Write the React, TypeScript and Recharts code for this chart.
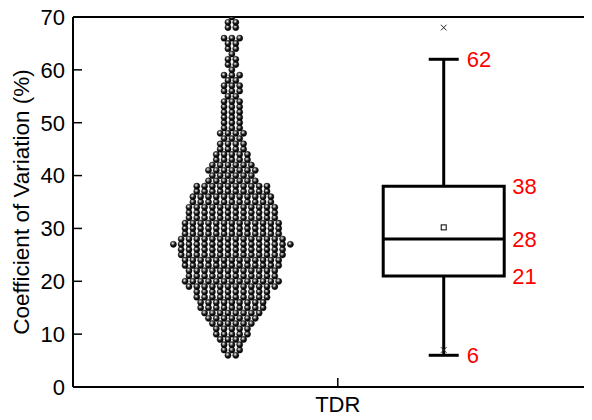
import React from 'react';
import {
  ComposedChart, XAxis, YAxis, Scatter, ReferenceArea, ReferenceLine,
} from 'recharts';

// ---- data ----
const cvValues = [
  6, 7, 8, 9, 10, 11, 12, 13, 14, 15, 16, 17, 18, 19, 20, 21, 22, 23, 24, 25,
  26, 27, 28, 29, 30, 31, 32, 33, 34, 35, 36, 37, 38, 39, 40, 41, 42, 43, 44, 45,
  46, 47, 48, 49, 50, 51, 52, 53, 54, 55, 56, 57, 58, 59, 60, 61, 62, 63, 64, 65,
  66, 67, 68, 69, 70,
];
const cvCounts = [
  2, 3, 3, 4, 5, 5, 6, 7, 8, 9, 9, 10, 10, 12, 13, 12, 12, 13, 13, 14,
  14, 16, 14, 13, 13, 13, 12, 12, 12, 11, 11, 10, 10, 7, 6, 7, 6, 5, 5, 4,
  4, 3, 4, 3, 3, 3, 3, 3, 3, 2, 3, 3, 2, 3, 1, 2, 2, 1, 2, 2,
  3, 0, 2, 2, 1,
];
const categories = ['TDR'];
const boxValues = [6, 21, 28, 38, 62]; // whisker low, Q1, median, Q3, whisker high
const boxLabels = ['6', '21', '28', '38', '62'];
const meanValue = 30.2;
const outlierValues = [68, 7];
const yTicks = [0, 10, 20, 30, 40, 50, 60, 70];

// ---- layout constants ----
const W = 584;
const H = 412;
const Y_AXIS_W = 65;
const X_AXIS_H = 33;
const TOP = 9;
const X_MAX = 1.96;
const PLOT_W = W - Y_AXIS_W;
const PX_PER_UNIT = PLOT_W / X_MAX;
const CAT_X = 1;
const SWARM_X = 0.6;
const BOX_X = 1.4;
const BOX_HALF = 60.5 / PX_PER_UNIT;
const CAP_HALF = 15 / PX_PER_UNIT;
const DOT_STEP = 7.8 / PX_PER_UNIT;
const FONT = '"Liberation Sans", Arial, sans-serif';

const swarmData: { x: number; y: number }[] = [];
cvValues.forEach((v, i) => {
  const n = cvCounts[i];
  for (let k = 0; k < n; k++) {
    swarmData.push({ x: SWARM_X + (k - (n - 1) / 2) * DOT_STEP, y: v });
  }
});

const [wLow, q1, med, q3, wHigh] = boxValues;
const labelData = [
  { x: BOX_X + CAP_HALF, y: wLow, text: boxLabels[0] },
  { x: BOX_X + BOX_HALF, y: q1, text: boxLabels[1] },
  { x: BOX_X + BOX_HALF, y: med, text: boxLabels[2] },
  { x: BOX_X + BOX_HALF, y: q3, text: boxLabels[3] },
  { x: BOX_X + CAP_HALF, y: wHigh, text: boxLabels[4] },
];
const outlierData = outlierValues.map((v) => ({ x: BOX_X, y: v }));
const meanData = [{ x: BOX_X, y: meanValue }];

const Ball = (props: any) => {
  const { cx, cy } = props;
  if (cx == null || cy == null) return null;
  return <circle cx={cx} cy={cy} r={3.1} fill="url(#ballGrad)" stroke="#000" strokeWidth={0.4} />;
};

const Cross = (props: any) => {
  const { cx, cy } = props;
  if (cx == null || cy == null) return null;
  const s = 2.8;
  return (
    <g stroke="#222" strokeWidth={1}>
      <line x1={cx - s} y1={cy - s} x2={cx + s} y2={cy + s} />
      <line x1={cx - s} y1={cy + s} x2={cx + s} y2={cy - s} />
    </g>
  );
};

const MeanSquare = (props: any) => {
  const { cx, cy } = props;
  if (cx == null || cy == null) return null;
  return <rect x={cx - 2.5} y={cy - 2.5} width={5} height={5} fill="#fff" stroke="#000" strokeWidth={1} />;
};

const RedLabel = (props: any) => {
  const { cx, cy, payload } = props;
  if (cx == null || cy == null) return null;
  return (
    <text x={cx + 8} y={cy} dy="0.36em" textAnchor="start" fontSize={22} fill="#ff0000" fontFamily={FONT}>
      {payload.text}
    </text>
  );
};

const YTick = (props: any) => {
  const { x, y, payload } = props;
  return (
    <g>
      <line x1={x + 8} x2={x + 17} y1={y} y2={y} stroke="#000" strokeWidth={1.5} />
      <text x={x} y={y} dy="0.36em" textAnchor="end" fontSize={22} fill="#000" fontFamily={FONT}>
        {payload.value}
      </text>
    </g>
  );
};

const XTick = (props: any) => {
  const { x, y } = props;
  return (
    <g>
      <line x1={x} x2={x} y1={y - 9} y2={y} stroke="#000" strokeWidth={1.5} />
      <text x={x} y={y + 25} textAnchor="middle" fontSize={22} fill="#000" fontFamily={FONT}>
        {categories[0]}
      </text>
    </g>
  );
};

const YLabel = (props: any) => {
  const vb = props.viewBox || {};
  const cx = (vb.x ?? 0) + 13;
  const cy = (vb.y ?? TOP) + (vb.height ?? 370) / 2;
  return (
    <text
      x={cx}
      y={cy}
      transform={`rotate(-90, ${cx}, ${cy})`}
      textAnchor="middle"
      dominantBaseline="central"
      fontSize={22.5}
      fill="#000"
      fontFamily={FONT}
    >
      Coefficient of Variation (%)
    </text>
  );
};

export default function App() {
  return (
    <ComposedChart width={W} height={H} margin={{ top: TOP, right: 0, bottom: 0, left: 0 }}>
      <defs>
        <radialGradient id="ballGrad" cx="40%" cy="35%" r="65%">
          <stop offset="0%" stopColor="#ffffff" />
          <stop offset="22%" stopColor="#9a9a9a" />
          <stop offset="55%" stopColor="#1a1a1a" />
          <stop offset="100%" stopColor="#000000" />
        </radialGradient>
      </defs>
      <XAxis
        type="number"
        dataKey="x"
        domain={[0, X_MAX]}
        ticks={[CAT_X]}
        height={X_AXIS_H}
        axisLine={{ stroke: '#000', strokeWidth: 2 }}
        tickLine={false}
        tickSize={0}
        tickMargin={0}
        tick={<XTick />}
        allowDataOverflow
      />
      <YAxis
        type="number"
        dataKey="y"
        domain={[0, 70]}
        ticks={yTicks}
        width={Y_AXIS_W}
        axisLine={{ stroke: '#000', strokeWidth: 2 }}
        tickLine={false}
        tickSize={8}
        tickMargin={0}
        tick={<YTick />}
        interval={0}
        allowDataOverflow
        label={<YLabel />}
      />
      <ReferenceLine y={70} stroke="#000" strokeWidth={2} ifOverflow="visible" />
      <Scatter data={swarmData} shape={<Ball />} isAnimationActive={false} />
      <ReferenceLine
        segment={[{ x: BOX_X, y: wLow }, { x: BOX_X, y: q1 }]}
        stroke="#000"
        strokeWidth={3}
      />
      <ReferenceLine
        segment={[{ x: BOX_X, y: q3 }, { x: BOX_X, y: wHigh }]}
        stroke="#000"
        strokeWidth={3}
      />
      <ReferenceLine
        segment={[{ x: BOX_X - CAP_HALF, y: wLow }, { x: BOX_X + CAP_HALF, y: wLow }]}
        stroke="#000"
        strokeWidth={3}
      />
      <ReferenceLine
        segment={[{ x: BOX_X - CAP_HALF, y: wHigh }, { x: BOX_X + CAP_HALF, y: wHigh }]}
        stroke="#000"
        strokeWidth={3}
      />
      <ReferenceArea
        x1={BOX_X - BOX_HALF}
        x2={BOX_X + BOX_HALF}
        y1={q1}
        y2={q3}
        fill="#fff"
        fillOpacity={1}
        stroke="#000"
        strokeWidth={3}
      />
      <ReferenceLine
        segment={[{ x: BOX_X - BOX_HALF, y: med }, { x: BOX_X + BOX_HALF, y: med }]}
        stroke="#000"
        strokeWidth={3}
      />
      <Scatter data={meanData} shape={<MeanSquare />} isAnimationActive={false} />
      <Scatter data={outlierData} shape={<Cross />} isAnimationActive={false} />
      <Scatter data={labelData} shape={<RedLabel />} isAnimationActive={false} />
    </ComposedChart>
  );
}
